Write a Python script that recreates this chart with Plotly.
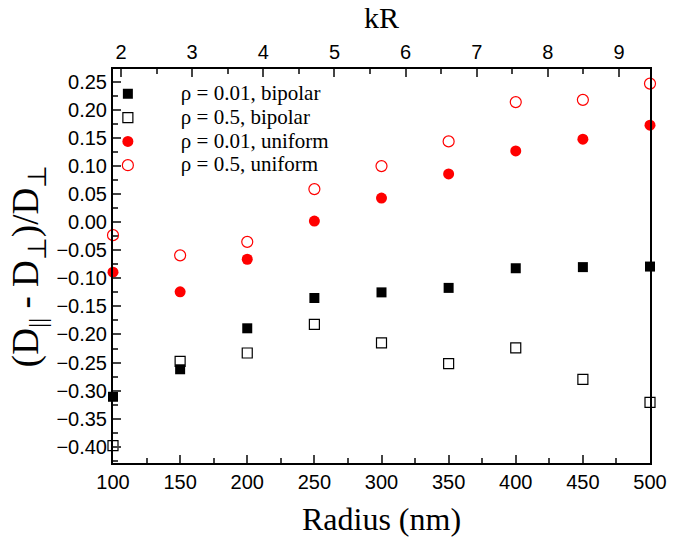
import plotly.graph_objects as go

# ---- data ----
radius_nm = [100, 150, 200, 250, 300, 350, 400, 450, 500]
bipolar_rho001 = [-0.311, -0.262, -0.189, -0.135, -0.125, -0.117, -0.082, -0.080, -0.079]
bipolar_rho05 = [-0.398, -0.248, -0.233, -0.182, -0.215, -0.252, -0.224, -0.280, -0.321]
uniform_rho001 = [-0.089, -0.124, -0.066, 0.002, 0.043, 0.086, 0.127, 0.148, 0.173]
uniform_rho05 = [-0.023, -0.059, -0.035, 0.059, 0.100, 0.144, 0.214, 0.218, 0.247]

series_names = ["ρ = 0.01, bipolar", "ρ = 0.5, bipolar", "ρ = 0.01, uniform", "ρ = 0.5, uniform"]
x_ticks = [100, 150, 200, 250, 300, 350, 400, 450, 500]
kR_ticks = [2, 3, 4, 5, 6, 7, 8, 9]
k_per_nm = 0.01887  # kR = k * R

x_range = [100, 500]
y_range = [-0.429, 0.273]

SERIF = "Liberation Serif, Times New Roman, serif"
SANS = "Liberation Sans, Arial, sans-serif"


def leg(name):
    return '<span style="font-size:21px">' + name + '</span>'


fig = go.Figure()
fig.add_trace(go.Scatter(x=radius_nm, y=bipolar_rho001, mode="markers", name=leg(series_names[0]),
                         marker=dict(symbol="square", size=10, color="black"), cliponaxis=False))
fig.add_trace(go.Scatter(x=radius_nm, y=bipolar_rho05, mode="markers", name=leg(series_names[1]),
                         marker=dict(symbol="square-open", size=10, color="black", line=dict(width=1.2)),
                         cliponaxis=False))
fig.add_trace(go.Scatter(x=radius_nm, y=uniform_rho001, mode="markers", name=leg(series_names[2]),
                         marker=dict(symbol="circle", size=11, color="#ff0000"), cliponaxis=False))
fig.add_trace(go.Scatter(x=radius_nm, y=uniform_rho05, mode="markers", name=leg(series_names[3]),
                         marker=dict(symbol="circle-open", size=11, color="#ff0000", line=dict(width=1.2)),
                         cliponaxis=False))
# invisible trace to anchor the top kR axis
fig.add_trace(go.Scatter(x=[r * k_per_nm for r in radius_nm], y=uniform_rho05, xaxis="x2",
                         mode="markers", marker=dict(opacity=0), showlegend=False, hoverinfo="skip"))

fig.update_layout(
    width=679, height=539,
    margin=dict(l=113, r=29, t=69, b=76),
    plot_bgcolor="white", paper_bgcolor="white",
    showlegend=True,
    legend=dict(x=-0.071, y=0.98, xanchor="left", yanchor="top",
                font=dict(family=SERIF, size=16, color="black"),
                bgcolor="rgba(0,0,0,0)", itemwidth=96, tracegroupgap=0),
    xaxis=dict(range=x_range, tickvals=x_ticks, ticks="inside", ticklen=8, tickwidth=1.5,
               showline=True, linewidth=2, linecolor="black", mirror=True,
               showgrid=False, zeroline=False, automargin=False,
               tickfont=dict(family=SANS, size=20, color="black"),
               minor=dict(ticks="inside", ticklen=5, dtick=25, tick0=100, tickwidth=1.5),
               title=dict(text="Radius (nm)", font=dict(family=SERIF, size=32, color="black"), standoff=16)),
    xaxis2=dict(overlaying="x", side="top", range=[x_range[0] * k_per_nm, x_range[1] * k_per_nm],
                tickvals=kR_ticks, ticks="inside", ticklen=8, tickwidth=1.5,
                showline=True, linewidth=2, linecolor="black",
                showgrid=False, zeroline=False, automargin=False,
                tickfont=dict(family=SANS, size=20, color="black"),
                minor=dict(ticks="inside", ticklen=5, dtick=0.5, tick0=0, tickwidth=1.5),
                title=dict(text="kR", font=dict(family=SERIF, size=30, color="black"), standoff=4)),
    yaxis=dict(range=y_range, dtick=0.05, tick0=0, tickformat=".2f", ticks="inside", ticklen=8, tickwidth=1.5,
               showline=True, linewidth=2, linecolor="black", mirror=True,
               showgrid=False, zeroline=False, automargin=False,
               tickfont=dict(family=SANS, size=20, color="black"),
               minor=dict(ticks="inside", ticklen=5, dtick=0.025, tickwidth=1.5),
               title=dict(text="(D<sub>||</sub> - D<sub>⊥</sub>)/D<sub>⊥</sub>",
                          font=dict(family=SERIF, size=37, color="black"), standoff=6)),
)

fig.write_html("out.html", config={"displayModeBar": False},
               post_script="document.body.style.margin='0px';")
